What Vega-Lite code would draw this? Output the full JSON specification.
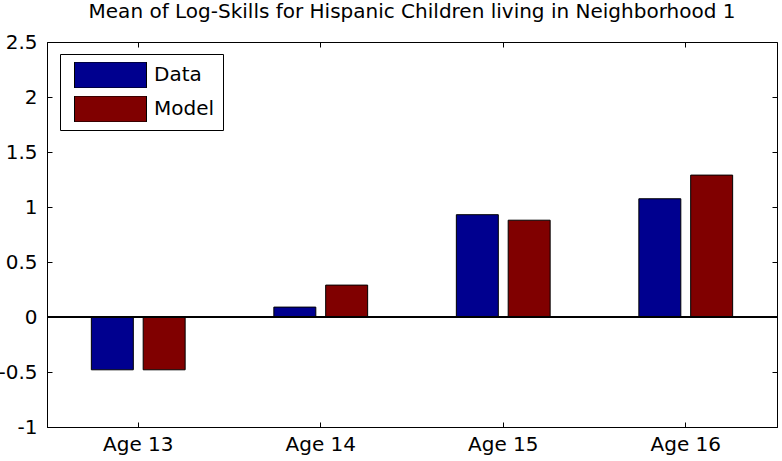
{
  "$schema": "https://vega.github.io/schema/vega-lite/v6.json",
  "width": 730,
  "height": 385,
  "autosize": "none",
  "padding": {"left": 47, "top": 42, "right": 5, "bottom": 34},
  "title": {"text": "Mean of Log-Skills for Hispanic Children living in Neighborhood 1", "font": "DejaVu Sans", "fontSize": 20, "fontWeight": "normal", "color": "black", "offset": 10},
  "config": {
    "view": {"stroke": "black", "strokeWidth": 1},
    "font": "DejaVu Sans",
    "axis": {"grid": false, "domainColor": "black", "tickColor": "black", "labelColor": "black", "labelFont": "DejaVu Sans", "labelFontSize": 20, "tickSize": -5, "title": null}
  },
  "data": {"values": [
    {"age": "Age 13", "series": "Data", "value": -0.48},
    {"age": "Age 13", "series": "Model", "value": -0.48},
    {"age": "Age 14", "series": "Data", "value": 0.09},
    {"age": "Age 14", "series": "Model", "value": 0.29},
    {"age": "Age 15", "series": "Data", "value": 0.93},
    {"age": "Age 15", "series": "Model", "value": 0.88},
    {"age": "Age 16", "series": "Data", "value": 1.075},
    {"age": "Age 16", "series": "Model", "value": 1.29}
  ]},
  "resolve": {"axis": {"x": "independent", "y": "independent"}},
  "layer": [
    {
      "mark": {"type": "bar", "stroke": "black", "strokeWidth": 1},
      "encoding": {
        "x": {"field": "age", "type": "nominal", "sort": null, "scale": {"type": "band", "paddingInner": 0.486, "paddingOuter": 0.243}, "axis": {"orient": "bottom", "labelAngle": 0, "labelPadding": 12}},
        "xOffset": {"field": "series", "type": "nominal", "sort": ["Data", "Model"], "scale": {"paddingInner": 0.19, "paddingOuter": 0}},
        "y": {"field": "value", "type": "quantitative", "scale": {"domain": [-1, 2.5], "nice": false, "zero": false}, "axis": {"orient": "left", "values": [-1, -0.5, 0, 0.5, 1, 1.5, 2, 2.5], "labelExpr": "toString(datum.value)", "labelPadding": 15}},
        "color": {"field": "series", "type": "nominal", "scale": {"domain": ["Data", "Model"], "range": ["#00008F", "#800000"]},
          "legend": {"title": null, "orient": "none", "legendX": 13, "legendY": 12, "symbolType": "M-1,-0.36H1V0.36H-1Z", "symbolSize": 5184, "symbolStrokeColor": "black", "symbolStrokeWidth": 1, "symbolOpacity": 1, "clipHeight": 26, "rowPadding": 8, "padding": 8, "symbolOffset": 6, "labelOffset": 7, "labelFont": "DejaVu Sans", "labelFontSize": 20, "labelColor": "black", "strokeColor": "black", "fillColor": "white"}}
      }
    },
    {
      "mark": {"type": "bar", "opacity": 0, "strokeOpacity": 0},
      "encoding": {
        "x": {"field": "age", "type": "nominal", "sort": null, "axis": {"orient": "top", "labels": false, "domain": false}},
        "y": {"field": "value", "type": "quantitative", "axis": {"orient": "right", "labels": false, "domain": false, "values": [-1, -0.5, 0, 0.5, 1, 1.5, 2, 2.5]}}
      }
    },
    {
      "mark": {"type": "rule", "color": "black", "strokeWidth": 1},
      "encoding": {"y": {"datum": 0, "axis": null}}
    }
  ]
}
